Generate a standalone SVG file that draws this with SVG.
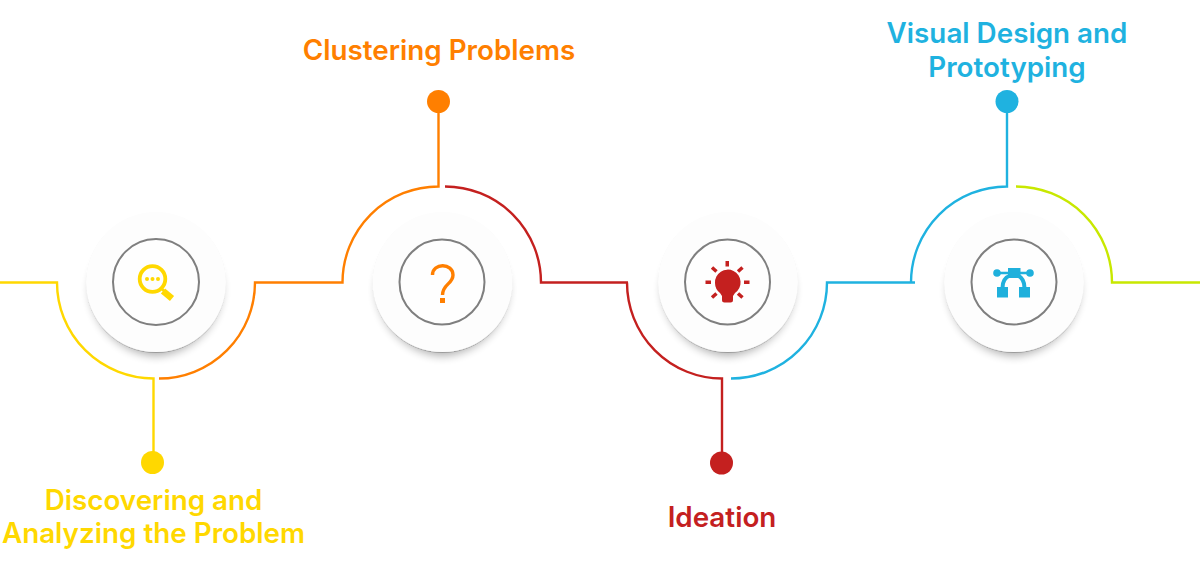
<svg xmlns="http://www.w3.org/2000/svg" width="1200" height="568" viewBox="0 0 1200 568">
<style>
.c{fill:none;stroke-width:2.4}
.y{stroke:#FFD800}.o{stroke:#FF7F00}.r{stroke:#C4201F}.b{stroke:#1FB2E0}.l{stroke:#C8E800}
.disc{fill:#FDFDFD;filter:url(#s)}
.ring{fill:#FEFEFE;stroke:#7F7F7F;stroke-width:2}
text{font-family:Inter,"Liberation Sans",sans-serif;font-weight:600;font-size:27.8px;text-anchor:middle}
</style>
<defs>
<filter id="s" x="-30%" y="-30%" width="160%" height="170%">
<feMorphology in="SourceAlpha" operator="erode" radius="4" result="e"/>
<feGaussianBlur in="e" stdDeviation="5"/>
<feOffset dy="8"/>
<feComponentTransfer result="wide"><feFuncA type="linear" slope=".32"/></feComponentTransfer>
<feGaussianBlur in="SourceAlpha" stdDeviation=".7"/>
<feOffset dy=".5"/>
<feComponentTransfer result="edge"><feFuncA type="linear" slope=".2"/></feComponentTransfer>
<feMerge><feMergeNode in="wide"/><feMergeNode in="edge"/><feMergeNode in="SourceGraphic"/></feMerge>
</filter>
</defs>
<rect width="1200" height="568" fill="#fff"/>
<g id="connectors">
<path class="c y" d="M0 282.500H57A97 96 0 0 0 153.500 378.500V452"/>
<path class="c o" d="M159 378.500A96 96 0 0 0 255 282.500H342.500A96 96 0 0 1 438.500 186.500V110"/>
<path class="c r" d="M445 186.500A96 96 0 0 1 541 282.500H628M627 282.500A95 96 0 0 0 722 378.500V453"/>
<path class="c b" d="M731 378.500A96 96 0 0 0 827 282.500H915M911 282.500A96 96 0 0 1 1007 186.500V110"/>
<path class="c l" d="M1016 186.500A96 96 0 0 1 1112 282.500H1200"/>
</g>
<g id="node-discovering">
<circle class="disc" cx="156" cy="282" r="70"/>
<circle class="ring" cx="156" cy="282" r="43"/>
<circle cx="152.500" cy="279" r="12.800" fill="none" stroke="#FFD800" stroke-width="3.800"/>
<g fill="#FFD800"><circle cx="147" cy="279" r="2"/><circle cx="152.500" cy="279" r="2"/><circle cx="158" cy="279" r="2"/></g>
<path d="M161 288L164 291" stroke="#FFD800" stroke-width="2.500"/>
<path d="M163 291L172 298.500" stroke="#FFD800" stroke-width="6.500"/>
<circle cx="152.500" cy="462.500" r="11.500" fill="#FFD800"/>
<text x="153.500" y="509.500" fill="#FFD800">Discovering and</text>
<text x="153.500" y="542.500" fill="#FFD800">Analyzing the Problem</text>
</g>
<g id="node-clustering">
<circle class="disc" cx="442.500" cy="282" r="70"/>
<circle class="ring" cx="442" cy="282" r="42.500"/>
<path d="M432.500 275C432.500 262.500 453 263 453 275C453 284 442.500 284 442.500 295" fill="none" stroke="#FF7F00" stroke-width="3.400"/>
<rect x="440" y="298" width="5" height="5" fill="#FF7F00"/>
<circle cx="438.500" cy="101.500" r="11.500" fill="#FF7F00"/>
<text x="439" y="59.500" fill="#FF7F00">Clustering Problems</text>
</g>
<g id="node-ideation">
<circle class="disc" cx="728" cy="282" r="70"/>
<circle class="ring" cx="727.500" cy="282" r="42.500"/>
<g fill="#C4201F">
<path d="M715 283A12.800 12.800 0 1 1 735 293L733 296V300Q733 302.500 730.500 302.500H724.500Q722 302.500 722 300V296L720 293A12.800 12.800 0 0 1 715 283Z"/>
<rect x="705.500" y="280.500" width="5.500" height="3.500"/><rect x="744" y="280.500" width="5.500" height="3.500"/><rect x="725.500" y="261" width="3.500" height="5.500"/>
</g>
<path d="M712 267.500L716.500 271.500M742.500 267.500L738 271.500M712 297.500L716.500 293.500M742.500 297.500L738 293.500" stroke="#C4201F" stroke-width="3.500"/>
<circle cx="721.500" cy="463" r="11.500" fill="#C4201F"/>
<text x="722" y="526.500" fill="#C4201F">Ideation</text>
</g>
<g id="node-visual">
<circle class="disc" cx="1014" cy="282" r="70"/>
<circle class="ring" cx="1014" cy="282" r="42.500"/>
<g fill="#1FB0DC">
<rect x="1008" y="268" width="12.500" height="10"/>
<circle cx="997" cy="273" r="3.800"/><circle cx="1030" cy="273" r="3.800"/>
<rect x="997" y="287" width="11" height="10.500"/><rect x="1019" y="287" width="11" height="10.500"/>
</g>
<path d="M997 273H1030" fill="none" stroke="#1FB0DC" stroke-width="2.500"/>
<path d="M1002.500 288C1002.500 280 1006 277 1010 275.500M1024.500 288C1024.500 280 1021 277 1018 275.500" fill="none" stroke="#1FB0DC" stroke-width="4"/>
<circle cx="1007" cy="101.500" r="11.500" fill="#1FB2E0"/>
<text x="1007" y="42.500" fill="#1FB2E0">Visual Design and</text>
<text x="1007" y="76.500" fill="#1FB2E0">Prototyping</text>
</g>
</svg>
